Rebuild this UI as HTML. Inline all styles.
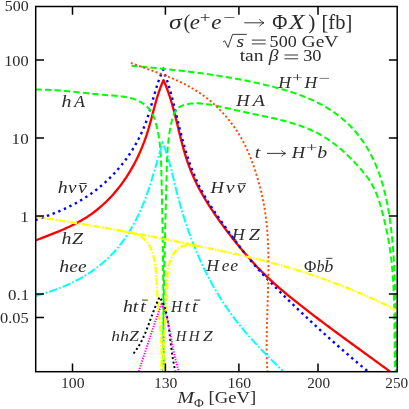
<!DOCTYPE html>
<html><head><meta charset="utf-8"><title>plot</title>
<style>
html,body{margin:0;padding:0;background:#fff;}
body{width:409px;height:409px;position:relative;overflow:hidden;font-family:"Liberation Serif",serif;color:#2b2b2b;}
.t{position:absolute;white-space:nowrap;line-height:1;font-family:"Liberation Serif",serif;transform-origin:0 0;}
</style></head><body>
<svg width="409" height="409" viewBox="0 0 409 409" style="position:absolute;left:0;top:0">
<defs><clipPath id="c"><rect x="35.7" y="6.5" width="361.5" height="365.7"/></clipPath></defs>
<g clip-path="url(#c)" fill="none">
<path d="M35.40 240.50 L37.27 239.77 L39.14 239.04 L41.03 238.31 L42.92 237.58 L44.81 236.85 L46.71 236.12 L48.61 235.39 L50.51 234.65 L52.41 233.90 L54.31 233.15 L56.21 232.39 L58.11 231.61 L60.00 230.83 L61.89 230.04 L63.77 229.23 L65.65 228.40 L67.51 227.56 L69.37 226.71 L71.22 225.83 L73.06 224.94 L74.88 224.02 L76.69 223.08 L78.49 222.12 L80.27 221.13 L82.03 220.12 L83.77 219.08 L85.50 218.01 L87.21 216.92 L88.89 215.79 L90.56 214.64 L92.21 213.46 L93.84 212.26 L95.45 211.03 L97.04 209.77 L98.61 208.49 L100.15 207.18 L101.68 205.85 L103.19 204.50 L104.68 203.12 L106.14 201.73 L107.59 200.30 L109.02 198.86 L110.42 197.40 L111.80 195.91 L113.17 194.41 L114.51 192.88 L115.82 191.34 L117.12 189.78 L118.40 188.20 L119.65 186.60 L120.88 184.98 L122.10 183.35 L123.29 181.70 L124.45 180.03 L125.60 178.35 L126.73 176.65 L127.83 174.93 L128.91 173.21 L129.98 171.47 L131.02 169.71 L132.04 167.94 L133.04 166.16 L134.01 164.37 L134.97 162.56 L135.90 160.75 L136.82 158.92 L137.71 157.08 L138.59 155.23 L139.44 153.37 L140.27 151.50 L141.08 149.63 L141.87 147.74 L142.64 145.85 L143.39 143.95 L144.11 142.04 L144.82 140.12 L145.51 138.20 L146.17 136.28 L146.82 134.34 L147.44 132.41 L148.05 130.47 L148.63 128.52 L149.20 126.57 L149.76 124.62 L150.30 122.66 L150.83 120.71 L151.36 118.75 L151.88 116.79 L152.39 114.83 L152.91 112.87 L153.42 110.91 L153.94 108.96 L154.46 107.00 L154.99 105.05 L155.53 103.10 L156.08 101.15 L156.64 99.21 L157.22 97.27 L157.82 95.33 L158.44 93.40 L159.08 91.48 L159.74 89.56 L160.43 87.66 L161.15 85.75 L161.90 83.86 L162.68 81.98 L163.50 80.10 L163.50 80.10 L164.31 81.94 L165.08 83.79 L165.83 85.65 L166.56 87.51 L167.27 89.39 L167.95 91.28 L168.61 93.18 L169.25 95.08 L169.88 96.99 L170.48 98.91 L171.07 100.84 L171.65 102.77 L172.21 104.71 L172.76 106.65 L173.29 108.60 L173.82 110.55 L174.33 112.51 L174.84 114.47 L175.34 116.43 L175.83 118.40 L176.32 120.37 L176.80 122.33 L177.29 124.31 L177.77 126.28 L178.24 128.25 L178.72 130.22 L179.20 132.19 L179.69 134.16 L180.17 136.13 L180.67 138.10 L181.16 140.06 L181.67 142.03 L182.18 143.98 L182.71 145.94 L183.24 147.89 L183.78 149.83 L184.34 151.77 L184.91 153.71 L185.50 155.64 L186.10 157.56 L186.72 159.48 L187.36 161.38 L188.02 163.28 L188.70 165.18 L189.40 167.06 L190.12 168.94 L190.86 170.80 L191.61 172.66 L192.39 174.51 L193.19 176.35 L194.01 178.18 L194.85 180.01 L195.71 181.82 L196.59 183.63 L197.48 185.42 L198.40 187.21 L199.33 188.99 L200.29 190.76 L201.26 192.53 L202.25 194.28 L203.26 196.02 L204.28 197.76 L205.32 199.49 L206.37 201.21 L207.43 202.93 L208.51 204.64 L209.60 206.34 L210.71 208.03 L211.82 209.72 L212.95 211.41 L214.08 213.08 L215.22 214.76 L216.37 216.42 L217.53 218.09 L218.70 219.74 L219.87 221.40 L221.06 223.04 L222.25 224.68 L223.44 226.32 L224.65 227.95 L225.86 229.57 L227.08 231.19 L228.31 232.80 L229.55 234.41 L230.79 236.02 L232.03 237.61 L233.29 239.20 L234.55 240.79 L235.82 242.37 L237.09 243.94 L238.37 245.51 L239.65 247.07 L240.94 248.63 L242.24 250.18 L243.54 251.72 L244.85 253.26 L246.17 254.79 L247.49 256.31 L248.82 257.82 L250.16 259.33 L251.51 260.83 L252.87 262.32 L254.23 263.80 L255.60 265.27 L256.98 266.74 L258.38 268.19 L259.78 269.63 L261.19 271.07 L262.61 272.49 L264.04 273.91 L265.48 275.31 L266.93 276.70 L268.40 278.09 L269.87 279.46 L271.35 280.83 L272.84 282.18 L274.33 283.53 L275.84 284.87 L277.35 286.20 L278.87 287.52 L280.40 288.84 L281.93 290.15 L283.48 291.45 L285.02 292.75 L286.57 294.04 L288.13 295.32 L289.69 296.60 L291.26 297.87 L292.83 299.14 L294.41 300.41 L295.99 301.67 L297.57 302.92 L299.15 304.18 L300.74 305.43 L302.33 306.67 L303.92 307.92 L305.52 309.16 L307.11 310.40 L308.71 311.63 L310.31 312.86 L311.92 314.09 L313.52 315.32 L315.13 316.55 L316.74 317.77 L318.35 318.99 L319.96 320.21 L321.57 321.42 L323.19 322.64 L324.80 323.85 L326.42 325.06 L328.04 326.27 L329.66 327.47 L331.28 328.68 L332.91 329.88 L334.53 331.08 L336.16 332.28 L337.78 333.48 L339.41 334.68 L341.04 335.87 L342.67 337.07 L344.30 338.26 L345.93 339.45 L347.56 340.65 L349.19 341.84 L350.82 343.03 L352.46 344.21 L354.09 345.40 L355.72 346.59 L357.36 347.78 L358.99 348.96 L360.63 350.15 L362.26 351.33 L363.89 352.52 L365.53 353.70 L367.16 354.89 L368.80 356.07 L370.43 357.26 L372.06 358.44 L373.70 359.63 L375.33 360.81 L376.96 362.00 L378.60 363.18 L380.23 364.37 L381.86 365.56 L383.49 366.74 L385.12 367.93 L386.75 369.12 L388.37 370.31 L390.00 371.50" stroke="#ff0000" stroke-width="2.3" stroke-linejoin="round"/>
<path d="M35.40 220.10 L37.31 219.43 L39.21 218.76 L41.12 218.08 L43.03 217.40 L44.93 216.71 L46.84 216.00 L48.74 215.29 L50.63 214.57 L52.53 213.84 L54.42 213.09 L56.30 212.33 L58.18 211.56 L60.05 210.77 L61.91 209.96 L63.77 209.14 L65.61 208.30 L67.45 207.45 L69.28 206.57 L71.10 205.68 L72.90 204.76 L74.70 203.82 L76.48 202.86 L78.25 201.88 L80.00 200.87 L81.74 199.83 L83.47 198.78 L85.18 197.70 L86.88 196.59 L88.56 195.47 L90.22 194.32 L91.87 193.14 L93.51 191.95 L95.13 190.73 L96.73 189.49 L98.32 188.24 L99.89 186.95 L101.44 185.65 L102.97 184.33 L104.49 182.99 L105.99 181.63 L107.47 180.24 L108.94 178.84 L110.38 177.42 L111.81 175.98 L113.22 174.52 L114.61 173.04 L115.98 171.55 L117.33 170.04 L118.66 168.50 L119.97 166.96 L121.26 165.39 L122.53 163.81 L123.78 162.21 L125.01 160.60 L126.21 158.96 L127.40 157.32 L128.56 155.66 L129.70 153.98 L130.82 152.29 L131.92 150.58 L132.99 148.86 L134.04 147.13 L135.07 145.38 L136.07 143.62 L137.05 141.85 L138.01 140.06 L138.94 138.26 L139.85 136.45 L140.73 134.63 L141.58 132.80 L142.42 130.95 L143.22 129.10 L144.00 127.23 L144.75 125.35 L145.48 123.46 L146.18 121.57 L146.86 119.66 L147.51 117.75 L148.14 115.82 L148.75 113.89 L149.34 111.96 L149.92 110.02 L150.49 108.08 L151.05 106.13 L151.61 104.18 L152.16 102.23 L152.71 100.28 L153.25 98.33 L153.81 96.38 L154.36 94.43 L154.93 92.48 L155.50 90.54 L156.09 88.61 L156.69 86.68 L157.31 84.75 L157.95 82.84 L158.62 80.93 L159.30 79.03 L160.02 77.14 L160.76 75.26 L161.54 73.39 L162.35 71.54 L163.20 69.70 L163.20 69.70 L163.92 71.58 L164.63 73.47 L165.31 75.36 L165.97 77.26 L166.62 79.16 L167.25 81.07 L167.86 82.98 L168.46 84.90 L169.04 86.82 L169.61 88.75 L170.17 90.68 L170.71 92.62 L171.25 94.55 L171.77 96.49 L172.28 98.44 L172.79 100.38 L173.29 102.33 L173.78 104.28 L174.26 106.24 L174.74 108.19 L175.22 110.15 L175.69 112.11 L176.16 114.07 L176.63 116.03 L177.10 117.99 L177.57 119.95 L178.04 121.91 L178.51 123.87 L178.98 125.83 L179.46 127.79 L179.94 129.75 L180.42 131.70 L180.92 133.66 L181.42 135.62 L181.92 137.57 L182.44 139.52 L182.96 141.47 L183.50 143.41 L184.04 145.36 L184.60 147.30 L185.16 149.23 L185.74 151.17 L186.33 153.09 L186.94 155.02 L187.55 156.94 L188.18 158.85 L188.83 160.76 L189.48 162.66 L190.16 164.55 L190.84 166.44 L191.55 168.33 L192.27 170.20 L193.01 172.07 L193.76 173.93 L194.53 175.78 L195.32 177.62 L196.13 179.46 L196.96 181.28 L197.80 183.10 L198.67 184.91 L199.56 186.70 L200.47 188.49 L201.40 190.26 L202.35 192.03 L203.32 193.78 L204.31 195.52 L205.32 197.26 L206.34 198.98 L207.38 200.70 L208.44 202.41 L209.51 204.11 L210.60 205.81 L211.70 207.49 L212.81 209.18 L213.93 210.85 L215.06 212.52 L216.21 214.19 L217.36 215.85 L218.51 217.50 L219.68 219.15 L220.85 220.80 L222.02 222.45 L223.20 224.09 L224.38 225.73 L225.56 227.37 L226.74 229.01 L227.93 230.65 L229.11 232.29 L230.29 233.93 L231.48 235.56 L232.66 237.19 L233.85 238.82 L235.04 240.45 L236.24 242.07 L237.44 243.69 L238.64 245.31 L239.85 246.92 L241.06 248.52 L242.29 250.12 L243.52 251.71 L244.75 253.30 L246.00 254.88 L247.25 256.44 L248.52 258.01 L249.79 259.56 L251.08 261.10 L252.37 262.63 L253.68 264.15 L255.00 265.67 L256.33 267.17 L257.67 268.67 L259.02 270.16 L260.37 271.64 L261.74 273.11 L263.11 274.58 L264.49 276.04 L265.88 277.50 L267.27 278.94 L268.67 280.39 L270.07 281.83 L271.48 283.27 L272.90 284.70 L274.31 286.13 L275.73 287.55 L277.16 288.97 L278.58 290.40 L280.01 291.82 L281.44 293.23 L282.87 294.65 L284.30 296.06 L285.74 297.47 L287.18 298.88 L288.62 300.28 L290.06 301.69 L291.51 303.09 L292.96 304.49 L294.41 305.89 L295.86 307.28 L297.31 308.68 L298.77 310.07 L300.23 311.46 L301.69 312.84 L303.15 314.23 L304.61 315.61 L306.08 316.99 L307.55 318.37 L309.02 319.74 L310.50 321.11 L311.97 322.49 L313.45 323.85 L314.93 325.22 L316.41 326.58 L317.89 327.94 L319.38 329.30 L320.87 330.66 L322.36 332.01 L323.85 333.37 L325.35 334.72 L326.84 336.06 L328.34 337.41 L329.84 338.75 L331.34 340.09 L332.85 341.43 L334.36 342.76 L335.86 344.10 L337.37 345.43 L338.89 346.75 L340.40 348.08 L341.92 349.40 L343.44 350.72 L344.96 352.04 L346.48 353.35 L348.01 354.67 L349.53 355.98 L351.06 357.29 L352.59 358.59 L354.12 359.89 L355.66 361.19 L357.19 362.49 L358.73 363.79 L360.27 365.08 L361.81 366.37 L363.36 367.65 L364.90 368.94 L366.45 370.22 L368.00 371.50" stroke="#0000ff" stroke-width="2.4" stroke-dasharray="2.4 3.7" stroke-linejoin="miter"/>
<path d="M35.50 89.60 L37.65 89.59 L39.77 89.61 L41.88 89.64 L43.97 89.68 L46.04 89.74 L48.10 89.82 L50.14 89.91 L52.17 90.02 L54.19 90.14 L56.19 90.27 L58.19 90.41 L60.17 90.56 L62.15 90.72 L64.11 90.89 L66.08 91.07 L68.03 91.25 L69.98 91.44 L71.93 91.64 L73.87 91.84 L75.82 92.04 L77.76 92.25 L79.70 92.46 L81.64 92.67 L83.59 92.88 L85.53 93.09 L87.49 93.30 L89.44 93.51 L91.41 93.71 L93.38 93.91 L95.35 94.11 L97.34 94.30 L99.34 94.49 L101.34 94.67 L103.36 94.84 L105.40 95.00 L107.44 95.15 L109.50 95.30 L111.57 95.45 L113.64 95.60 L115.71 95.77 L117.78 95.96 L119.85 96.17 L121.90 96.42 L123.94 96.71 L125.97 97.05 L127.97 97.44 L129.95 97.89 L131.89 98.41 L133.81 99.00 L135.69 99.67 L137.53 100.43 L139.32 101.28 L141.07 102.23 L142.75 103.28 L144.37 104.42 L145.90 105.65 L147.35 106.98 L148.70 108.40 L149.94 109.91 L151.07 111.52 L152.07 113.21 L152.96 114.99 L153.75 116.82 L154.46 118.71 L155.09 120.63 L155.67 122.57 L156.22 124.52 L156.72 126.47 L157.19 128.43 L157.63 130.39 L158.03 132.36 L158.40 134.34 L158.74 136.32 L159.05 138.30 L159.34 140.29 L159.59 142.28 L159.83 144.28 L160.04 146.28 L160.23 148.28 L160.40 150.28 L160.56 152.29 L160.69 154.30 L160.81 156.31 L160.92 158.33 L161.01 160.34 L161.09 162.36 L161.17 164.38 L161.23 166.40 L161.29 168.41 L161.34 170.43 L161.39 172.45 L161.44 174.47 L161.49 176.49 L161.53 178.51 L161.58 180.53 L161.63 182.54 L161.67 184.56 L161.72 186.58 L161.76 188.59 L161.80 190.61 L161.85 192.62 L161.89 194.64 L161.93 196.65 L161.98 198.67 L162.02 200.68 L162.06 202.69 L162.10 204.71 L162.14 206.72 L162.18 208.73 L162.22 210.74 L162.26 212.75 L162.30 214.76 L162.34 216.77 L162.37 218.78 L162.41 220.79 L162.45 222.80 L162.48 224.81 L162.52 226.82 L162.55 228.83 L162.59 230.84 L162.62 232.85 L162.66 234.86 L162.69 236.86 L162.72 238.87 L162.75 240.88 L162.78 242.89 L162.81 244.89 L162.84 246.90 L162.87 248.91 L162.90 250.91 L162.93 252.92 L162.96 254.93 L162.99 256.93 L163.01 258.94 L163.04 260.95 L163.06 262.95 L163.09 264.96 L163.11 266.97 L163.13 268.97 L163.16 270.98 L163.18 272.98 L163.20 274.99 L163.22 277.00 L163.24 279.00 L163.26 281.01 L163.28 283.02 L163.30 285.02 L163.31 287.03 L163.33 289.03 L163.35 291.04 L163.36 293.05 L163.37 295.05 L163.39 297.06 L163.40 299.07 L163.41 301.08 L163.42 303.08 L163.43 305.09 L163.44 307.10 L163.45 309.11 L163.46 311.11 L163.47 313.12 L163.47 315.13 L163.48 317.14 L163.48 319.15 L163.49 321.16 L163.49 323.17 L163.49 325.18 L163.49 327.19 L163.49 329.20 L163.49 331.21 L163.49 333.22 L163.49 335.23 L163.49 337.24 L163.48 339.25 L163.48 341.27 L163.47 343.28 L163.47 345.29 L163.46 347.30 L163.45 349.32 L163.44 351.33 L163.43 353.35 L163.42 355.36 L163.41 357.38 L163.40 359.39 L163.38 361.41 L163.37 363.43 L163.35 365.44 L163.34 367.46 L163.32 369.48 L163.30 371.50" stroke="#00ff00" stroke-width="2.0" stroke-dasharray="6.3 3.2" stroke-linejoin="round"/>
<path d="M163.70 371.50 L163.67 369.49 L163.64 367.48 L163.62 365.48 L163.60 363.47 L163.58 361.46 L163.56 359.45 L163.54 357.44 L163.52 355.43 L163.51 353.43 L163.50 351.42 L163.49 349.41 L163.48 347.40 L163.47 345.39 L163.47 343.38 L163.46 341.37 L163.46 339.36 L163.46 337.35 L163.46 335.34 L163.47 333.33 L163.47 331.32 L163.48 329.31 L163.49 327.30 L163.49 325.29 L163.51 323.28 L163.52 321.27 L163.53 319.26 L163.55 317.25 L163.56 315.23 L163.58 313.22 L163.60 311.21 L163.62 309.20 L163.64 307.19 L163.66 305.18 L163.69 303.17 L163.71 301.16 L163.74 299.15 L163.76 297.13 L163.79 295.12 L163.82 293.11 L163.85 291.10 L163.88 289.09 L163.92 287.08 L163.95 285.07 L163.99 283.05 L164.02 281.04 L164.06 279.03 L164.09 277.02 L164.13 275.01 L164.17 273.00 L164.21 270.99 L164.25 268.98 L164.29 266.96 L164.34 264.95 L164.38 262.94 L164.42 260.93 L164.47 258.92 L164.51 256.91 L164.56 254.90 L164.60 252.89 L164.65 250.88 L164.70 248.86 L164.74 246.85 L164.79 244.84 L164.84 242.83 L164.89 240.82 L164.94 238.81 L164.99 236.80 L165.04 234.79 L165.09 232.78 L165.14 230.77 L165.19 228.76 L165.25 226.75 L165.30 224.74 L165.35 222.73 L165.40 220.72 L165.46 218.71 L165.51 216.70 L165.56 214.70 L165.61 212.69 L165.67 210.68 L165.72 208.67 L165.77 206.66 L165.83 204.65 L165.88 202.64 L165.93 200.64 L165.99 198.63 L166.04 196.62 L166.09 194.61 L166.15 192.61 L166.20 190.60 L166.25 188.59 L166.30 186.59 L166.35 184.58 L166.41 182.57 L166.46 180.57 L166.51 178.56 L166.56 176.56 L166.61 174.55 L166.66 172.54 L166.71 170.54 L166.77 168.53 L166.83 166.53 L166.89 164.52 L166.96 162.52 L167.03 160.51 L167.12 158.51 L167.21 156.50 L167.31 154.50 L167.43 152.49 L167.56 150.49 L167.70 148.48 L167.86 146.47 L168.04 144.46 L168.23 142.46 L168.45 140.45 L168.68 138.44 L168.94 136.43 L169.22 134.42 L169.52 132.41 L169.85 130.39 L170.21 128.38 L170.59 126.37 L171.00 124.35 L171.44 122.33 L171.92 120.32 L172.45 118.33 L173.05 116.38 L173.74 114.51 L174.55 112.74 L175.49 111.09 L176.58 109.58 L177.85 108.25 L179.32 107.12 L180.98 106.19 L182.77 105.43 L184.64 104.81 L186.56 104.31 L188.50 103.91 L190.48 103.62 L192.49 103.42 L194.52 103.32 L196.56 103.29 L198.63 103.34 L200.70 103.45 L202.78 103.63 L204.86 103.86 L206.95 104.14 L209.03 104.45 L211.10 104.81 L213.16 105.19 L215.21 105.58 L217.24 106.00 L219.25 106.42 L221.23 106.84 L223.20 107.27 L225.16 107.71 L227.10 108.15 L229.03 108.58 L230.95 109.03 L232.87 109.47 L234.78 109.91 L236.69 110.35 L238.59 110.79 L240.51 111.22 L242.42 111.65 L244.35 112.07 L246.28 112.49 L248.22 112.91 L250.16 113.32 L252.11 113.73 L254.07 114.14 L256.03 114.55 L258.00 114.95 L259.97 115.36 L261.95 115.77 L263.92 116.19 L265.90 116.61 L267.88 117.03 L269.86 117.47 L271.84 117.90 L273.82 118.35 L275.80 118.81 L277.77 119.28 L279.75 119.75 L281.72 120.24 L283.68 120.75 L285.64 121.27 L287.60 121.80 L289.54 122.35 L291.49 122.92 L293.42 123.50 L295.35 124.10 L297.27 124.73 L299.17 125.37 L301.07 126.04 L302.96 126.73 L304.84 127.45 L306.70 128.19 L308.55 128.95 L310.39 129.75 L312.22 130.57 L314.03 131.42 L315.82 132.30 L317.60 133.21 L319.36 134.15 L321.11 135.12 L322.83 136.13 L324.55 137.17 L326.24 138.24 L327.92 139.33 L329.58 140.46 L331.22 141.61 L332.85 142.79 L334.46 144.00 L336.05 145.23 L337.63 146.48 L339.19 147.76 L340.74 149.06 L342.27 150.38 L343.78 151.73 L345.28 153.09 L346.76 154.47 L348.23 155.87 L349.67 157.29 L351.11 158.72 L352.53 160.17 L353.93 161.63 L355.31 163.11 L356.69 164.60 L358.04 166.10 L359.38 167.61 L360.71 169.14 L362.02 170.67 L363.31 172.22 L364.59 173.77 L365.84 175.33 L367.06 176.92 L368.24 178.53 L369.37 180.17 L370.45 181.84 L371.48 183.54 L372.46 185.28 L373.38 187.04 L374.27 188.82 L375.11 190.63 L375.91 192.47 L376.67 194.32 L377.39 196.20 L378.08 198.09 L378.74 200.00 L379.37 201.92 L379.98 203.85 L380.55 205.80 L381.11 207.75 L381.65 209.71 L382.17 211.68 L382.67 213.64 L383.17 215.61 L383.65 217.58 L384.12 219.55 L384.59 221.52 L385.05 223.48 L385.50 225.44 L385.94 227.40 L386.37 229.37 L386.79 231.33 L387.20 233.29 L387.60 235.25 L387.98 237.22 L388.34 239.18 L388.70 241.15 L389.03 243.12 L389.36 245.10 L389.67 247.08 L389.97 249.06 L390.25 251.04 L390.52 253.02 L390.78 255.01 L391.03 257.00 L391.26 258.99 L391.48 260.98 L391.70 262.97 L391.90 264.97 L392.09 266.97 L392.27 268.97 L392.44 270.97 L392.60 272.97 L392.75 274.98 L392.89 276.98 L393.03 278.99 L393.15 281.00 L393.27 283.00 L393.38 285.02 L393.48 287.03 L393.58 289.04 L393.67 291.05 L393.75 293.07 L393.83 295.08 L393.90 297.10 L393.96 299.11 L394.02 301.13 L394.07 303.14 L394.12 305.16 L394.17 307.18 L394.21 309.20 L394.25 311.22 L394.29 313.23 L394.32 315.25 L394.35 317.27 L394.38 319.29 L394.40 321.31 L394.42 323.32 L394.45 325.34 L394.47 327.36 L394.49 329.38 L394.51 331.39 L394.53 333.41 L394.55 335.42 L394.57 337.44 L394.59 339.45 L394.61 341.46 L394.64 343.47 L394.66 345.49 L394.69 347.49 L394.72 349.50 L394.75 351.51 L394.79 353.52 L394.83 355.52 L394.87 357.52 L394.92 359.53 L394.97 361.53 L395.02 363.52 L395.09 365.52 L395.15 367.52 L395.22 369.51 L395.30 371.50" stroke="#00ff00" stroke-width="2.0" stroke-dasharray="6.3 3.2" stroke-linejoin="round"/>
<path d="M131.40 65.70 L133.41 65.89 L135.42 66.08 L137.43 66.27 L139.44 66.46 L141.44 66.65 L143.45 66.85 L145.46 67.04 L147.46 67.23 L149.47 67.43 L151.47 67.63 L153.47 67.82 L155.47 68.02 L157.48 68.22 L159.48 68.42 L161.48 68.63 L163.48 68.83 L165.48 69.04 L167.48 69.25 L169.47 69.47 L171.47 69.68 L173.47 69.90 L175.46 70.12 L177.46 70.34 L179.45 70.57 L181.44 70.79 L183.44 71.03 L185.43 71.26 L187.42 71.50 L189.41 71.74 L191.40 71.99 L193.39 72.23 L195.38 72.49 L197.37 72.74 L199.35 73.01 L201.34 73.27 L203.33 73.54 L205.31 73.81 L207.30 74.09 L209.28 74.38 L211.26 74.66 L213.25 74.96 L215.23 75.25 L217.21 75.56 L219.19 75.87 L221.17 76.18 L223.15 76.50 L225.12 76.82 L227.10 77.15 L229.08 77.49 L231.05 77.83 L233.03 78.18 L235.00 78.54 L236.98 78.90 L238.95 79.27 L240.92 79.64 L242.89 80.02 L244.87 80.41 L246.84 80.81 L248.80 81.21 L250.77 81.62 L252.74 82.03 L254.71 82.46 L256.68 82.89 L258.64 83.33 L260.61 83.78 L262.57 84.23 L264.53 84.70 L266.50 85.17 L268.46 85.65 L270.42 86.14 L272.38 86.63 L274.34 87.14 L276.30 87.66 L278.25 88.18 L280.21 88.72 L282.16 89.27 L284.10 89.83 L286.05 90.41 L287.99 91.00 L289.92 91.60 L291.85 92.22 L293.77 92.85 L295.68 93.50 L297.59 94.17 L299.49 94.86 L301.39 95.56 L303.27 96.29 L305.15 97.03 L307.02 97.79 L308.88 98.58 L310.72 99.38 L312.56 100.21 L314.39 101.07 L316.20 101.94 L318.00 102.84 L319.79 103.77 L321.57 104.72 L323.33 105.70 L325.08 106.70 L326.81 107.73 L328.53 108.78 L330.23 109.86 L331.91 110.97 L333.58 112.10 L335.22 113.26 L336.85 114.44 L338.46 115.65 L340.04 116.89 L341.60 118.15 L343.15 119.44 L344.66 120.76 L346.16 122.10 L347.63 123.47 L349.07 124.86 L350.49 126.28 L351.88 127.73 L353.25 129.19 L354.58 130.69 L355.90 132.20 L357.18 133.74 L358.44 135.30 L359.67 136.88 L360.88 138.48 L362.05 140.10 L363.20 141.74 L364.32 143.40 L365.41 145.07 L366.47 146.76 L367.51 148.46 L368.51 150.18 L369.49 151.92 L370.44 153.67 L371.37 155.43 L372.27 157.21 L373.14 159.00 L373.99 160.81 L374.81 162.62 L375.61 164.45 L376.38 166.30 L377.13 168.15 L377.86 170.01 L378.56 171.89 L379.24 173.77 L379.90 175.67 L380.54 177.57 L381.16 179.48 L381.76 181.41 L382.34 183.34 L382.89 185.27 L383.43 187.22 L383.95 189.17 L384.46 191.13 L384.94 193.10 L385.41 195.07 L385.86 197.04 L386.30 199.03 L386.71 201.01 L387.12 203.00 L387.51 205.00 L387.88 207.00 L388.24 209.00 L388.58 211.00 L388.92 213.01 L389.24 215.02 L389.55 217.03 L389.84 219.04 L390.13 221.05 L390.40 223.07 L390.66 225.08 L390.92 227.09 L391.16 229.10 L391.39 231.11 L391.62 233.12 L391.84 235.13 L392.04 237.13 L392.24 239.14 L392.43 241.14 L392.62 243.15 L392.79 245.15 L392.96 247.15 L393.12 249.16 L393.27 251.16 L393.42 253.16 L393.56 255.16 L393.69 257.16 L393.81 259.15 L393.93 261.15 L394.04 263.15 L394.15 265.15 L394.25 267.14 L394.35 269.14 L394.44 271.14 L394.52 273.13 L394.60 275.13 L394.68 277.12 L394.75 279.12 L394.81 281.12 L394.87 283.11 L394.93 285.11 L394.98 287.10 L395.03 289.10 L395.08 291.09 L395.12 293.09 L395.16 295.09 L395.20 297.08 L395.23 299.08 L395.26 301.08 L395.29 303.07 L395.32 305.07 L395.34 307.07 L395.37 309.07 L395.39 311.07 L395.41 313.07 L395.43 315.07 L395.44 317.07 L395.46 319.07 L395.47 321.07 L395.49 323.08 L395.51 325.08 L395.52 327.09 L395.54 329.09 L395.55 331.10 L395.57 333.11 L395.58 335.11 L395.60 337.12 L395.62 339.14 L395.64 341.15 L395.66 343.16 L395.68 345.18 L395.70 347.19 L395.73 349.21 L395.76 351.23 L395.79 353.25 L395.82 355.27 L395.86 357.29 L395.90 359.32 L395.94 361.34 L395.98 363.37 L396.03 365.40 L396.08 367.43 L396.14 369.47 L396.20 371.50" stroke="#00ff00" stroke-width="2.0" stroke-dasharray="6.3 3.2" stroke-linejoin="round"/>
<path d="M130.80 62.90 L132.66 63.59 L134.52 64.27 L136.39 64.95 L138.27 65.63 L140.16 66.31 L142.04 66.98 L143.94 67.66 L145.84 68.34 L147.74 69.02 L149.64 69.70 L151.54 70.39 L153.45 71.08 L155.35 71.78 L157.25 72.49 L159.16 73.20 L161.06 73.92 L162.95 74.65 L164.84 75.39 L166.73 76.14 L168.62 76.90 L170.49 77.68 L172.36 78.47 L174.23 79.28 L176.08 80.10 L177.93 80.93 L179.76 81.79 L181.59 82.66 L183.40 83.55 L185.20 84.46 L186.99 85.39 L188.77 86.35 L190.53 87.32 L192.28 88.32 L194.01 89.35 L195.73 90.40 L197.42 91.47 L199.10 92.57 L200.77 93.70 L202.41 94.86 L204.04 96.04 L205.65 97.24 L207.23 98.47 L208.80 99.73 L210.35 101.00 L211.88 102.31 L213.40 103.63 L214.89 104.98 L216.36 106.35 L217.81 107.74 L219.24 109.16 L220.64 110.59 L222.03 112.05 L223.40 113.53 L224.74 115.02 L226.06 116.54 L227.36 118.08 L228.64 119.64 L229.89 121.21 L231.12 122.81 L232.33 124.42 L233.51 126.05 L234.67 127.70 L235.81 129.36 L236.92 131.04 L238.01 132.74 L239.07 134.45 L240.11 136.18 L241.12 137.92 L242.11 139.68 L243.07 141.45 L244.01 143.24 L244.92 145.04 L245.81 146.85 L246.67 148.67 L247.51 150.51 L248.33 152.36 L249.12 154.21 L249.90 156.08 L250.65 157.96 L251.38 159.84 L252.10 161.74 L252.80 163.64 L253.48 165.55 L254.14 167.46 L254.79 169.38 L255.42 171.30 L256.03 173.23 L256.64 175.17 L257.23 177.10 L257.80 179.04 L258.36 180.99 L258.91 182.93 L259.44 184.88 L259.96 186.83 L260.46 188.79 L260.95 190.74 L261.42 192.70 L261.87 194.66 L262.31 196.63 L262.73 198.60 L263.13 200.57 L263.51 202.54 L263.88 204.51 L264.23 206.49 L264.56 208.46 L264.88 210.44 L265.18 212.43 L265.46 214.41 L265.73 216.40 L265.99 218.38 L266.23 220.37 L266.45 222.37 L266.66 224.36 L266.86 226.35 L267.04 228.35 L267.22 230.35 L267.37 232.35 L267.52 234.35 L267.65 236.35 L267.78 238.36 L267.89 240.36 L267.99 242.37 L268.08 244.38 L268.16 246.39 L268.23 248.40 L268.29 250.41 L268.34 252.42 L268.38 254.43 L268.42 256.45 L268.44 258.47 L268.46 260.48 L268.47 262.50 L268.47 264.52 L268.47 266.54 L268.46 268.56 L268.44 270.58 L268.42 272.60 L268.39 274.62 L268.36 276.64 L268.32 278.67 L268.28 280.69 L268.23 282.71 L268.19 284.74 L268.13 286.76 L268.08 288.79 L268.02 290.81 L267.96 292.84 L267.89 294.86 L267.83 296.89 L267.76 298.92 L267.70 300.94 L267.63 302.97 L267.56 304.99 L267.49 307.02 L267.43 309.04 L267.36 311.07 L267.29 313.09 L267.23 315.12 L267.17 317.14 L267.11 319.17 L267.05 321.19 L266.99 323.21 L266.94 325.24 L266.89 327.26 L266.85 329.28 L266.81 331.30 L266.77 333.32 L266.74 335.34 L266.71 337.36 L266.69 339.37 L266.68 341.39 L266.67 343.41 L266.67 345.42 L266.67 347.43 L266.69 349.45 L266.71 351.46 L266.74 353.47 L266.77 355.48 L266.82 357.48 L266.87 359.49 L266.93 361.50 L267.01 363.50 L267.09 365.50 L267.18 367.50 L267.29 369.50 L267.40 371.50" stroke="#ff4500" stroke-width="1.9" stroke-dasharray="2 2.4" stroke-linejoin="round"/>
<path d="M35.50 296.00 L37.43 295.46 L39.37 294.90 L41.30 294.33 L43.24 293.74 L45.18 293.14 L47.11 292.52 L49.05 291.88 L50.98 291.23 L52.90 290.56 L54.83 289.87 L56.75 289.16 L58.66 288.43 L60.57 287.68 L62.47 286.91 L64.36 286.12 L66.25 285.31 L68.12 284.48 L69.99 283.63 L71.84 282.76 L73.69 281.86 L75.52 280.94 L77.34 280.00 L79.15 279.04 L80.94 278.05 L82.72 277.03 L84.48 275.99 L86.23 274.93 L87.96 273.84 L89.67 272.73 L91.37 271.59 L93.04 270.43 L94.70 269.24 L96.34 268.03 L97.96 266.80 L99.56 265.54 L101.14 264.25 L102.70 262.95 L104.23 261.62 L105.75 260.26 L107.24 258.89 L108.71 257.49 L110.15 256.06 L111.57 254.62 L112.97 253.15 L114.34 251.66 L115.68 250.15 L117.01 248.62 L118.31 247.06 L119.58 245.49 L120.83 243.90 L122.06 242.29 L123.27 240.66 L124.45 239.01 L125.61 237.34 L126.75 235.66 L127.86 233.97 L128.96 232.25 L130.03 230.53 L131.08 228.78 L132.10 227.03 L133.11 225.26 L134.10 223.47 L135.06 221.68 L136.00 219.87 L136.92 218.05 L137.83 216.23 L138.71 214.39 L139.57 212.54 L140.41 210.68 L141.23 208.81 L142.03 206.94 L142.81 205.06 L143.58 203.17 L144.33 201.27 L145.06 199.36 L145.78 197.45 L146.48 195.54 L147.16 193.62 L147.84 191.69 L148.50 189.76 L149.15 187.82 L149.79 185.88 L150.42 183.94 L151.04 182.00 L151.65 180.05 L152.25 178.10 L152.85 176.14 L153.44 174.19 L154.02 172.23 L154.60 170.27 L155.17 168.32 L155.74 166.36 L156.31 164.40 L156.88 162.44 L157.44 160.49 L158.01 158.54 L158.57 156.58 L159.14 154.63 L159.71 152.69 L160.28 150.74 L160.85 148.80 L161.43 146.86 L162.01 144.93 L162.60 143.00 L162.60 143.00 L163.38 144.86 L164.13 146.74 L164.86 148.62 L165.55 150.52 L166.22 152.42 L166.86 154.33 L167.48 156.25 L168.08 158.17 L168.66 160.11 L169.22 162.04 L169.77 163.99 L170.30 165.93 L170.82 167.89 L171.32 169.84 L171.82 171.80 L172.31 173.76 L172.79 175.73 L173.27 177.70 L173.75 179.66 L174.22 181.63 L174.70 183.60 L175.17 185.57 L175.65 187.54 L176.14 189.51 L176.63 191.47 L177.14 193.44 L177.64 195.40 L178.16 197.36 L178.69 199.31 L179.22 201.27 L179.76 203.22 L180.31 205.17 L180.86 207.12 L181.43 209.07 L182.00 211.01 L182.59 212.95 L183.18 214.89 L183.78 216.82 L184.38 218.75 L185.00 220.68 L185.63 222.61 L186.26 224.53 L186.91 226.45 L187.56 228.36 L188.23 230.28 L188.90 232.18 L189.59 234.09 L190.28 235.99 L190.98 237.89 L191.70 239.78 L192.42 241.68 L193.15 243.56 L193.90 245.45 L194.65 247.32 L195.42 249.20 L196.19 251.07 L196.98 252.94 L197.77 254.80 L198.58 256.65 L199.40 258.51 L200.23 260.36 L201.07 262.20 L201.93 264.04 L202.79 265.87 L203.66 267.70 L204.55 269.52 L205.45 271.34 L206.36 273.15 L207.28 274.96 L208.21 276.76 L209.15 278.56 L210.11 280.35 L211.07 282.13 L212.05 283.91 L213.04 285.68 L214.04 287.44 L215.05 289.20 L216.07 290.95 L217.11 292.69 L218.15 294.43 L219.21 296.16 L220.28 297.88 L221.36 299.59 L222.45 301.30 L223.56 303.00 L224.67 304.69 L225.80 306.37 L226.94 308.05 L228.09 309.71 L229.25 311.37 L230.42 313.02 L231.61 314.66 L232.80 316.29 L234.01 317.92 L235.23 319.53 L236.47 321.13 L237.71 322.73 L238.97 324.31 L240.23 325.89 L241.51 327.46 L242.80 329.01 L244.10 330.56 L245.41 332.10 L246.74 333.64 L248.07 335.16 L249.40 336.68 L250.75 338.19 L252.11 339.69 L253.47 341.19 L254.84 342.68 L256.22 344.16 L257.61 345.64 L259.00 347.11 L260.40 348.57 L261.80 350.03 L263.21 351.49 L264.63 352.94 L266.05 354.39 L267.47 355.83 L268.90 357.27 L270.33 358.70 L271.76 360.13 L273.20 361.56 L274.64 362.99 L276.08 364.41 L277.52 365.83 L278.96 367.25 L280.41 368.67 L281.85 370.08 L283.30 371.50" stroke="#00ffff" stroke-width="2.0" stroke-dasharray="8.5 2 1.8 2" stroke-linejoin="miter"/>
<path d="M35.50 216.60 L37.50 216.92 L39.50 217.23 L41.50 217.55 L43.51 217.87 L45.51 218.19 L47.51 218.51 L49.51 218.83 L51.51 219.15 L53.51 219.47 L55.51 219.79 L57.51 220.11 L59.51 220.43 L61.51 220.76 L63.51 221.08 L65.51 221.41 L67.51 221.73 L69.51 222.06 L71.51 222.39 L73.51 222.72 L75.51 223.05 L77.51 223.38 L79.51 223.71 L81.51 224.04 L83.51 224.38 L85.50 224.71 L87.50 225.05 L89.50 225.38 L91.50 225.72 L93.50 226.06 L95.49 226.40 L97.49 226.74 L99.49 227.08 L101.49 227.43 L103.48 227.77 L105.48 228.12 L107.47 228.46 L109.47 228.81 L111.47 229.16 L113.46 229.51 L115.46 229.87 L117.45 230.22 L119.45 230.58 L121.44 230.93 L123.43 231.29 L125.43 231.65 L127.42 232.01 L129.42 232.38 L131.41 232.74 L133.40 233.11 L135.39 233.48 L137.39 233.85 L139.38 234.22 L141.37 234.59 L143.36 234.97 L145.35 235.34 L147.34 235.72 L149.33 236.10 L151.32 236.48 L153.31 236.87 L155.30 237.25 L157.29 237.64 L159.28 238.03 L161.26 238.42 L163.25 238.82 L165.24 239.21 L167.23 239.61 L169.21 240.01 L171.20 240.41 L173.18 240.81 L175.17 241.22 L177.15 241.63 L179.14 242.04 L181.12 242.45 L183.11 242.86 L185.09 243.28 L187.07 243.70 L189.06 244.12 L191.04 244.55 L193.02 244.97 L195.00 245.40" stroke="#ffff00" stroke-width="2.3" stroke-dasharray="7 1.6 1.5 1.6" stroke-linejoin="round"/>
<path d="M195.00 245.40 L196.99 245.82 L198.98 246.24 L200.97 246.66 L202.95 247.08 L204.94 247.50 L206.93 247.92 L208.92 248.34 L210.91 248.76 L212.91 249.18 L214.90 249.60 L216.89 250.02 L218.88 250.44 L220.87 250.87 L222.86 251.29 L224.85 251.72 L226.84 252.15 L228.83 252.58 L230.81 253.02 L232.80 253.46 L234.79 253.90 L236.78 254.34 L238.76 254.79 L240.75 255.23 L242.73 255.69 L244.71 256.14 L246.70 256.60 L248.68 257.07 L250.66 257.54 L252.64 258.01 L254.61 258.49 L256.59 258.97 L258.56 259.46 L260.54 259.95 L262.51 260.45 L264.48 260.95 L266.45 261.46 L268.42 261.97 L270.38 262.49 L272.35 263.01 L274.31 263.54 L276.27 264.08 L278.23 264.62 L280.19 265.16 L282.15 265.72 L284.10 266.27 L286.05 266.84 L288.01 267.41 L289.95 267.99 L291.90 268.57 L293.85 269.16 L295.79 269.76 L297.73 270.36 L299.67 270.97 L301.61 271.59 L303.54 272.21 L305.48 272.84 L307.41 273.48 L309.34 274.12 L311.26 274.77 L313.19 275.42 L315.11 276.08 L317.03 276.75 L318.95 277.42 L320.87 278.10 L322.79 278.78 L324.70 279.47 L326.62 280.16 L328.53 280.86 L330.44 281.56 L332.35 282.27 L334.25 282.98 L336.16 283.69 L338.06 284.42 L339.96 285.14 L341.86 285.87 L343.76 286.61 L345.66 287.35 L347.55 288.09 L349.44 288.85 L351.33 289.61 L353.21 290.37 L355.10 291.14 L356.98 291.92 L358.86 292.70 L360.73 293.49 L362.60 294.28 L364.47 295.09 L366.34 295.90 L368.20 296.71 L370.06 297.54 L371.92 298.37 L373.77 299.21 L375.62 300.05 L377.46 300.91 L379.31 301.77 L381.14 302.64 L382.98 303.52 L384.81 304.40 L386.63 305.30 L388.46 306.20 L390.27 307.11 L392.09 308.03 L393.90 308.96 L395.70 309.90" stroke="#ffff00" stroke-width="2.3" stroke-dasharray="6.2 1.4 1.3 1.4 1.3 1.4" stroke-linejoin="round"/>
<path d="M118.00 230.10 L119.88 230.53 L121.83 230.93 L123.85 231.31 L125.91 231.70 L127.99 232.11 L130.07 232.56 L132.14 233.07 L134.17 233.65 L136.15 234.33 L138.06 235.11 L139.89 236.01 L141.62 237.03 L143.25 238.17 L144.76 239.44 L146.13 240.85 L147.38 242.38 L148.51 244.03 L149.53 245.77 L150.44 247.58 L151.26 249.45 L152.00 251.36 L152.66 253.30 L153.25 255.26 L153.78 257.23 L154.24 259.22 L154.65 261.22 L155.01 263.24 L155.32 265.26 L155.58 267.30 L155.81 269.35 L156.01 271.40 L156.18 273.46 L156.32 275.53 L156.45 277.60 L156.56 279.67 L156.66 281.74 L156.75 283.81 L156.84 285.88 L156.94 287.95 L157.04 290.01 L157.16 292.06 L157.29 294.11 L157.42 296.16 L157.57 298.19 L157.73 300.23 L157.90 302.26 L158.07 304.28 L158.25 306.31 L158.43 308.33 L158.62 310.34 L158.80 312.36 L159.00 314.37 L159.19 316.38 L159.38 318.39 L159.57 320.40 L159.76 322.41 L159.95 324.42 L160.13 326.43 L160.30 328.44 L160.47 330.45 L160.63 332.46 L160.79 334.48 L160.93 336.49 L161.07 338.51 L161.19 340.53 L161.30 342.56 L161.40 344.59 L161.48 346.62 L161.55 348.66 L161.60 350.71 L161.64 352.75 L161.65 354.81 L161.65 356.87 L161.63 358.94 L161.58 361.01 L161.51 363.09 L161.42 365.18 L161.31 367.28 L161.17 369.39 L161.00 371.50" stroke="#ffff00" stroke-width="2.3" stroke-dasharray="7 1.6 1.5 1.6" stroke-linejoin="round"/>
<path d="M164.20 371.50 L164.04 369.39 L163.90 367.28 L163.79 365.19 L163.70 363.11 L163.64 361.03 L163.59 358.96 L163.57 356.90 L163.56 354.85 L163.57 352.80 L163.59 350.76 L163.64 348.73 L163.69 346.70 L163.76 344.67 L163.84 342.65 L163.94 340.63 L164.04 338.61 L164.16 336.60 L164.28 334.59 L164.41 332.58 L164.55 330.57 L164.69 328.56 L164.84 326.55 L164.99 324.54 L165.14 322.53 L165.29 320.52 L165.45 318.51 L165.60 316.49 L165.75 314.47 L165.90 312.45 L166.05 310.42 L166.19 308.39 L166.32 306.35 L166.45 304.30 L166.57 302.26 L166.68 300.20 L166.78 298.14 L166.87 296.07 L166.95 293.99 L167.02 291.90 L167.07 289.80 L167.11 287.70 L167.15 285.59 L167.18 283.47 L167.23 281.36 L167.29 279.26 L167.38 277.16 L167.51 275.07 L167.68 273.00 L167.89 270.95 L168.17 268.92 L168.51 266.92 L168.93 264.94 L169.43 263.00 L170.02 261.10 L170.71 259.23 L171.50 257.41 L172.41 255.64 L173.44 253.92 L174.61 252.26 L175.90 250.70 L177.34 249.28 L178.92 248.03 L180.64 246.98 L182.53 246.18 L184.56 245.66 L186.77 245.45 L189.09 245.54 L191.36 245.71 L193.39 245.74 L195.00 245.40" stroke="#ffff00" stroke-width="2.3" stroke-dasharray="7 1.6 1.5 1.6" stroke-linejoin="round"/>
<path d="M133.60 353.50 L134.88 351.83 L136.11 350.13 L137.27 348.40 L138.39 346.64 L139.45 344.86 L140.46 343.06 L141.43 341.23 L142.36 339.38 L143.25 337.52 L144.11 335.64 L144.94 333.74 L145.75 331.83 L146.53 329.90 L147.29 327.97 L148.03 326.03 L148.77 324.08 L149.49 322.13 L150.20 320.18 L150.92 318.22 L151.63 316.26 L152.35 314.31 L153.08 312.36 L153.82 310.42 L154.57 308.48 L155.35 306.55 L156.14 304.63 L156.96 302.73 L157.81 300.83 L158.69 298.96 L159.60 297.10 L159.60 297.10 L160.71 298.86 L161.71 300.66 L162.62 302.49 L163.45 304.35 L164.20 306.24 L164.87 308.16 L165.48 310.10 L166.02 312.06 L166.51 314.04 L166.95 316.03 L167.34 318.04 L167.70 320.07 L168.03 322.10 L168.34 324.14 L168.62 326.19 L168.90 328.24 L169.16 330.29 L169.42 332.34 L169.67 334.39 L169.92 336.45 L170.17 338.50 L170.42 340.56 L170.67 342.61 L170.92 344.66 L171.18 346.71 L171.44 348.76 L171.72 350.80 L172.00 352.85 L172.29 354.88 L172.60 356.92 L172.93 358.95 L173.27 360.97 L173.63 362.99 L174.01 365.00 L174.42 367.01 L174.85 369.01 L175.30 371.00" stroke="#000000" stroke-width="2.0" stroke-dasharray="2 2.6" stroke-linejoin="miter"/>
<path d="M138.70 371.50 L139.35 369.52 L140.00 367.54 L140.66 365.56 L141.31 363.58 L141.96 361.60 L142.61 359.62 L143.26 357.64 L143.91 355.66 L144.56 353.68 L145.21 351.70 L145.86 349.72 L146.51 347.74 L147.16 345.77 L147.82 343.79 L148.47 341.81 L149.13 339.83 L149.79 337.85 L150.45 335.88 L151.11 333.90 L151.78 331.93 L152.45 329.95 L153.11 327.98 L153.79 326.01 L154.46 324.03 L155.14 322.06 L155.82 320.10 L156.50 318.13 L157.19 316.16 L157.88 314.20 L158.58 312.24 L159.28 310.27 L159.98 308.31 L160.69 306.36 L161.40 304.40 L161.40 304.40 L162.45 306.24 L163.41 308.11 L164.27 310.02 L165.06 311.96 L165.77 313.92 L166.41 315.91 L166.99 317.92 L167.52 319.95 L168.01 322.00 L168.46 324.06 L168.89 326.12 L169.29 328.20 L169.69 330.28 L170.07 332.36 L170.46 334.44 L170.84 336.53 L171.22 338.61 L171.61 340.69 L172.00 342.78 L172.39 344.86 L172.80 346.94 L173.21 349.01 L173.63 351.08 L174.07 353.15 L174.52 355.22 L174.99 357.28 L175.48 359.33 L175.99 361.38 L176.52 363.42 L177.07 365.45 L177.65 367.48 L178.26 369.49 L178.90 371.50" stroke="#ff00ff" stroke-width="1.9" stroke-dasharray="1.3 1.3" stroke-linejoin="miter"/>
</g>
<g stroke="#000" stroke-width="1.5" fill="none">
<rect x="35.7" y="6.5" width="361.5" height="365.2"/>
<path d="M72.5 371.7 v-8.3 M72.5 6.5 v8.3"/>
<path d="M165.4 371.7 v-8.3 M165.4 6.5 v8.3"/>
<path d="M238.9 371.7 v-8.3 M238.9 6.5 v8.3"/>
<path d="M318.0 371.7 v-8.3 M318.0 6.5 v8.3"/>
<path d="M35.7 60.1 h8.3 M397.2 60.1 h-8.3"/>
<path d="M35.7 138.1 h8.3 M397.2 138.1 h-8.3"/>
<path d="M35.7 216.0 h8.3 M397.2 216.0 h-8.3"/>
<path d="M35.7 293.9 h8.3 M397.2 293.9 h-8.3"/>
<path d="M35.7 317.4 h8.3 M397.2 317.4 h-8.3"/>
</g>
<g stroke="#222" stroke-width="0.9" fill="none"><path d="M79.6 183.5 H86.6"/><path d="M238.4 183.7 H246.0"/><path d="M326.2 258.3 H332.4"/><path d="M142.0 300.1 H147.8"/><path d="M194.2 300.1 H200.3"/><path d="M223 42 l1.8 -1.2 l3.2 6.6 l4.6 -13 H246.8" stroke-width="0.9"/><path d="M244.3 22.8 H264.0 M259.4 19.2 Q261.5 21.9 264.0 22.8 Q261.5 23.7 259.4 26.4"/><path d="M267.0 153.4 H285.6 M281.6 150.4 Q283.4 152.7 285.6 153.4 Q283.4 154.2 281.6 156.4"/><path d="M251.8 40.1 H265.7"/><path d="M251.8 43.9 H265.7"/><path d="M284.5 55.0 H298.1"/><path d="M284.5 58.8 H298.1"/></g>
</svg>
<div id="tx" style="position:absolute;left:0;top:0;width:409px;height:409px;filter:grayscale(1);">
<div class="t" id="t0" style="left:0;top:0;font-size:14.0px;transform:translate(4.75px,0.32px) scaleX(1.139);">500</div>
<div class="t" id="t1" style="left:0;top:0;font-size:14.0px;transform:translate(4.14px,54.80px) scaleX(1.169);">100</div>
<div class="t" id="t2" style="left:0;top:0;font-size:14.0px;transform:translate(11.60px,132.75px) scaleX(1.220);">10</div>
<div class="t" id="t3" style="left:0;top:0;font-size:14.0px;transform:translate(20.35px,210.70px) scaleX(1.220);">1</div>
<div class="t" id="t4" style="left:0;top:0;font-size:14.0px;transform:translate(8.00px,288.65px) scaleX(1.209);">0.1</div>
<div class="t" id="t5" style="left:0;top:0;font-size:14.0px;transform:translate(0.01px,312.12px) scaleX(1.170);">0.05</div>
<div class="t" id="t6" style="left:0;top:0;font-size:14.0px;transform:translate(61.00px,377.20px) scaleX(1.122);">100</div>
<div class="t" id="t7" style="left:0;top:0;font-size:14.0px;transform:translate(153.91px,377.20px) scaleX(1.122);">130</div>
<div class="t" id="t8" style="left:0;top:0;font-size:14.0px;transform:translate(227.44px,377.20px) scaleX(1.122);">160</div>
<div class="t" id="t9" style="left:0;top:0;font-size:14.0px;transform:translate(307.18px,377.20px) scaleX(1.087);">200</div>
<div class="t" id="t10" style="left:0;top:0;font-size:14.0px;transform:translate(385.30px,377.20px) scaleX(1.087);">250</div>
<div class="t" id="t11" style="left:0;top:0;font-size:16.5px;font-style:italic;transform:translate(177.31px,390.40px) scaleX(1.220);">M</div>
<div class="t" id="t12" style="left:0;top:0;font-size:11.5px;transform:translate(194.06px,398.20px) scaleX(1.161);">Φ</div>
<div class="t" id="t13" style="left:0;top:0;font-size:16.5px;transform:translate(208.59px,390.40px) scaleX(1.130);">[GeV]</div>
<div class="t" id="t14" style="left:0;top:0;font-size:21.0px;font-style:italic;transform:translate(169.01px,11.50px) scaleX(1.220);">σ</div>
<div class="t" id="t15" style="left:0;top:0;font-size:21.0px;transform:translate(183.46px,11.50px) scaleX(0.964);">(</div>
<div class="t" id="t16" style="left:0;top:0;font-size:21.0px;font-style:italic;transform:translate(189.82px,11.50px) scaleX(1.091);">e</div>
<div class="t" id="t17" style="left:0;top:0;font-size:14.0px;transform:translate(199.65px,11.00px) scaleX(1.358);">+</div>
<div class="t" id="t18" style="left:0;top:0;font-size:21.0px;font-style:italic;transform:translate(211.32px,11.50px) scaleX(1.091);">e</div>
<div class="t" id="t19" style="left:0;top:0;font-size:14.0px;transform:translate(223.54px,11.00px) scaleX(1.540);">−</div>
<div class="t" id="t20" style="left:0;top:0;font-size:21.0px;transform:translate(272.18px,11.50px) scaleX(0.984);">Φ</div>
<div class="t" id="t21" style="left:0;top:0;font-size:21.0px;font-style:italic;transform:translate(289.07px,11.50px) scaleX(1.220);">X</div>
<div class="t" id="t22" style="left:0;top:0;font-size:21.0px;transform:translate(308.36px,11.50px) scaleX(1.018);">)</div>
<div class="t" id="t23" style="left:0;top:0;font-size:21.0px;transform:translate(321.54px,11.50px) scaleX(0.975);">[fb]</div>
<div class="t" id="t24" style="left:0;top:0;font-size:16.0px;font-style:italic;transform:translate(236.59px,33.60px) scaleX(1.220);">s</div>
<div class="t" id="t25" style="left:0;top:0;font-size:16.0px;transform:translate(269.61px,33.60px) scaleX(1.129);">500</div>
<div class="t" id="t26" style="left:0;top:0;font-size:16.0px;transform:translate(301.57px,33.60px) scaleX(1.220);">GeV</div>
<div class="t" id="t27" style="left:0;top:0;font-size:16.0px;transform:translate(239.66px,47.60px) scaleX(1.220);">tan</div>
<div class="t" id="t28" style="left:0;top:0;font-size:16.0px;font-style:italic;transform:translate(268.77px,47.60px) scaleX(1.220);">β</div>
<div class="t" id="t29" style="left:0;top:0;font-size:16.0px;transform:translate(303.14px,47.60px) scaleX(1.149);">30</div>
<div class="t" id="t30" style="left:0;top:0;font-size:16.3px;font-style:italic;transform:translate(61.44px,94.10px) scaleX(1.220);">h</div>
<div class="t" id="t31" style="left:0;top:0;font-size:16.3px;font-style:italic;transform:translate(74.24px,94.10px) scaleX(1.076);">A</div>
<div class="t" id="t32" style="left:0;top:0;font-size:16.3px;font-style:italic;transform:translate(57.79px,180.20px) scaleX(1.220);">h</div>
<div class="t" id="t33" style="left:0;top:0;font-size:16.3px;font-style:italic;transform:translate(68.10px,180.20px) scaleX(1.186);">ν</div>
<div class="t" id="t34" style="left:0;top:0;font-size:16.3px;font-style:italic;transform:translate(77.92px,180.20px) scaleX(1.220);">ν</div>
<div class="t" id="t35" style="left:0;top:0;font-size:16.3px;font-style:italic;transform:translate(61.44px,230.60px) scaleX(1.220);">h</div>
<div class="t" id="t36" style="left:0;top:0;font-size:16.3px;font-style:italic;transform:translate(72.05px,230.60px) scaleX(1.220);">Z</div>
<div class="t" id="t37" style="left:0;top:0;font-size:16.3px;font-style:italic;transform:translate(59.34px,258.50px) scaleX(1.220);">h</div>
<div class="t" id="t38" style="left:0;top:0;font-size:16.3px;font-style:italic;transform:translate(69.30px,258.50px) scaleX(1.192);">e</div>
<div class="t" id="t39" style="left:0;top:0;font-size:16.3px;font-style:italic;transform:translate(78.10px,258.50px) scaleX(1.192);">e</div>
<div class="t" id="t40" style="left:0;top:0;font-size:16.3px;font-style:italic;transform:translate(278.14px,74.60px) scaleX(1.085);">H</div>
<div class="t" id="t41" style="left:0;top:0;font-size:12.0px;transform:translate(292.00px,72.30px) scaleX(1.600);">+</div>
<div class="t" id="t42" style="left:0;top:0;font-size:16.3px;font-style:italic;transform:translate(304.53px,74.60px) scaleX(1.077);">H</div>
<div class="t" id="t43" style="left:0;top:0;font-size:12.0px;transform:translate(318.73px,72.30px) scaleX(1.707);">−</div>
<div class="t" id="t44" style="left:0;top:0;font-size:16.3px;font-style:italic;transform:translate(236.14px,92.50px) scaleX(1.133);">H</div>
<div class="t" id="t45" style="left:0;top:0;font-size:16.3px;font-style:italic;transform:translate(252.63px,92.50px) scaleX(1.220);">A</div>
<div class="t" id="t46" style="left:0;top:0;font-size:16.3px;font-style:italic;transform:translate(254.77px,144.50px) scaleX(1.220);">t</div>
<div class="t" id="t47" style="left:0;top:0;font-size:16.3px;font-style:italic;transform:translate(291.84px,144.50px) scaleX(1.133);">H</div>
<div class="t" id="t48" style="left:0;top:0;font-size:12.0px;transform:translate(305.96px,142.20px) scaleX(1.671);">+</div>
<div class="t" id="t49" style="left:0;top:0;font-size:16.3px;font-style:italic;transform:translate(317.32px,144.50px) scaleX(1.220);">b</div>
<div class="t" id="t50" style="left:0;top:0;font-size:16.3px;font-style:italic;transform:translate(210.44px,179.70px) scaleX(1.133);">H</div>
<div class="t" id="t51" style="left:0;top:0;font-size:16.3px;font-style:italic;transform:translate(225.78px,179.70px) scaleX(1.220);">ν</div>
<div class="t" id="t52" style="left:0;top:0;font-size:16.3px;font-style:italic;transform:translate(236.53px,179.70px) scaleX(1.220);">ν</div>
<div class="t" id="t53" style="left:0;top:0;font-size:16.3px;font-style:italic;transform:translate(231.94px,227.20px) scaleX(1.085);">H</div>
<div class="t" id="t54" style="left:0;top:0;font-size:16.3px;font-style:italic;transform:translate(248.71px,227.20px) scaleX(1.220);">Z</div>
<div class="t" id="t55" style="left:0;top:0;font-size:16.3px;font-style:italic;transform:translate(206.34px,257.60px) scaleX(1.085);">H</div>
<div class="t" id="t56" style="left:0;top:0;font-size:16.3px;font-style:italic;transform:translate(221.77px,257.60px) scaleX(1.051);">e</div>
<div class="t" id="t57" style="left:0;top:0;font-size:16.3px;font-style:italic;transform:translate(230.26px,257.60px) scaleX(1.082);">e</div>
<div class="t" id="t58" style="left:0;top:0;font-size:16.3px;transform:translate(303.88px,258.70px) scaleX(1.039);">Φ</div>
<div class="t" id="t59" style="left:0;top:0;font-size:16.3px;font-style:italic;transform:translate(316.81px,258.70px) scaleX(0.943);">b</div>
<div class="t" id="t60" style="left:0;top:0;font-size:16.3px;font-style:italic;transform:translate(324.30px,258.70px) scaleX(1.114);">b</div>
<div class="t" id="t61" style="left:0;top:0;font-size:16.3px;font-style:italic;transform:translate(122.89px,298.80px) scaleX(1.220);">h</div>
<div class="t" id="t62" style="left:0;top:0;font-size:16.3px;font-style:italic;transform:translate(132.87px,298.80px) scaleX(1.220);">t</div>
<div class="t" id="t63" style="left:0;top:0;font-size:16.3px;font-style:italic;transform:translate(140.17px,298.80px) scaleX(1.220);">t</div>
<div class="t" id="t64" style="left:0;top:0;font-size:16.3px;font-style:italic;transform:translate(171.02px,298.80px) scaleX(0.958);">H</div>
<div class="t" id="t65" style="left:0;top:0;font-size:16.3px;font-style:italic;transform:translate(184.52px,298.80px) scaleX(1.220);">t</div>
<div class="t" id="t66" style="left:0;top:0;font-size:16.3px;font-style:italic;transform:translate(192.07px,298.80px) scaleX(1.220);">t</div>
<div class="t" id="t67" style="left:0;top:0;font-size:14.3px;font-style:italic;transform:translate(111.18px,328.50px) scaleX(1.220);">h</div>
<div class="t" id="t68" style="left:0;top:0;font-size:14.3px;font-style:italic;transform:translate(120.28px,328.50px) scaleX(1.220);">h</div>
<div class="t" id="t69" style="left:0;top:0;font-size:14.3px;font-style:italic;transform:translate(129.15px,328.50px) scaleX(1.200);">Z</div>
<div class="t" id="t70" style="left:0;top:0;font-size:14.3px;font-style:italic;transform:translate(175.73px,328.50px) scaleX(1.025);">H</div>
<div class="t" id="t71" style="left:0;top:0;font-size:14.3px;font-style:italic;transform:translate(188.63px,328.50px) scaleX(1.052);">H</div>
<div class="t" id="t72" style="left:0;top:0;font-size:14.3px;font-style:italic;transform:translate(203.07px,328.50px) scaleX(1.220);">Z</div>
</div>
</body></html>
